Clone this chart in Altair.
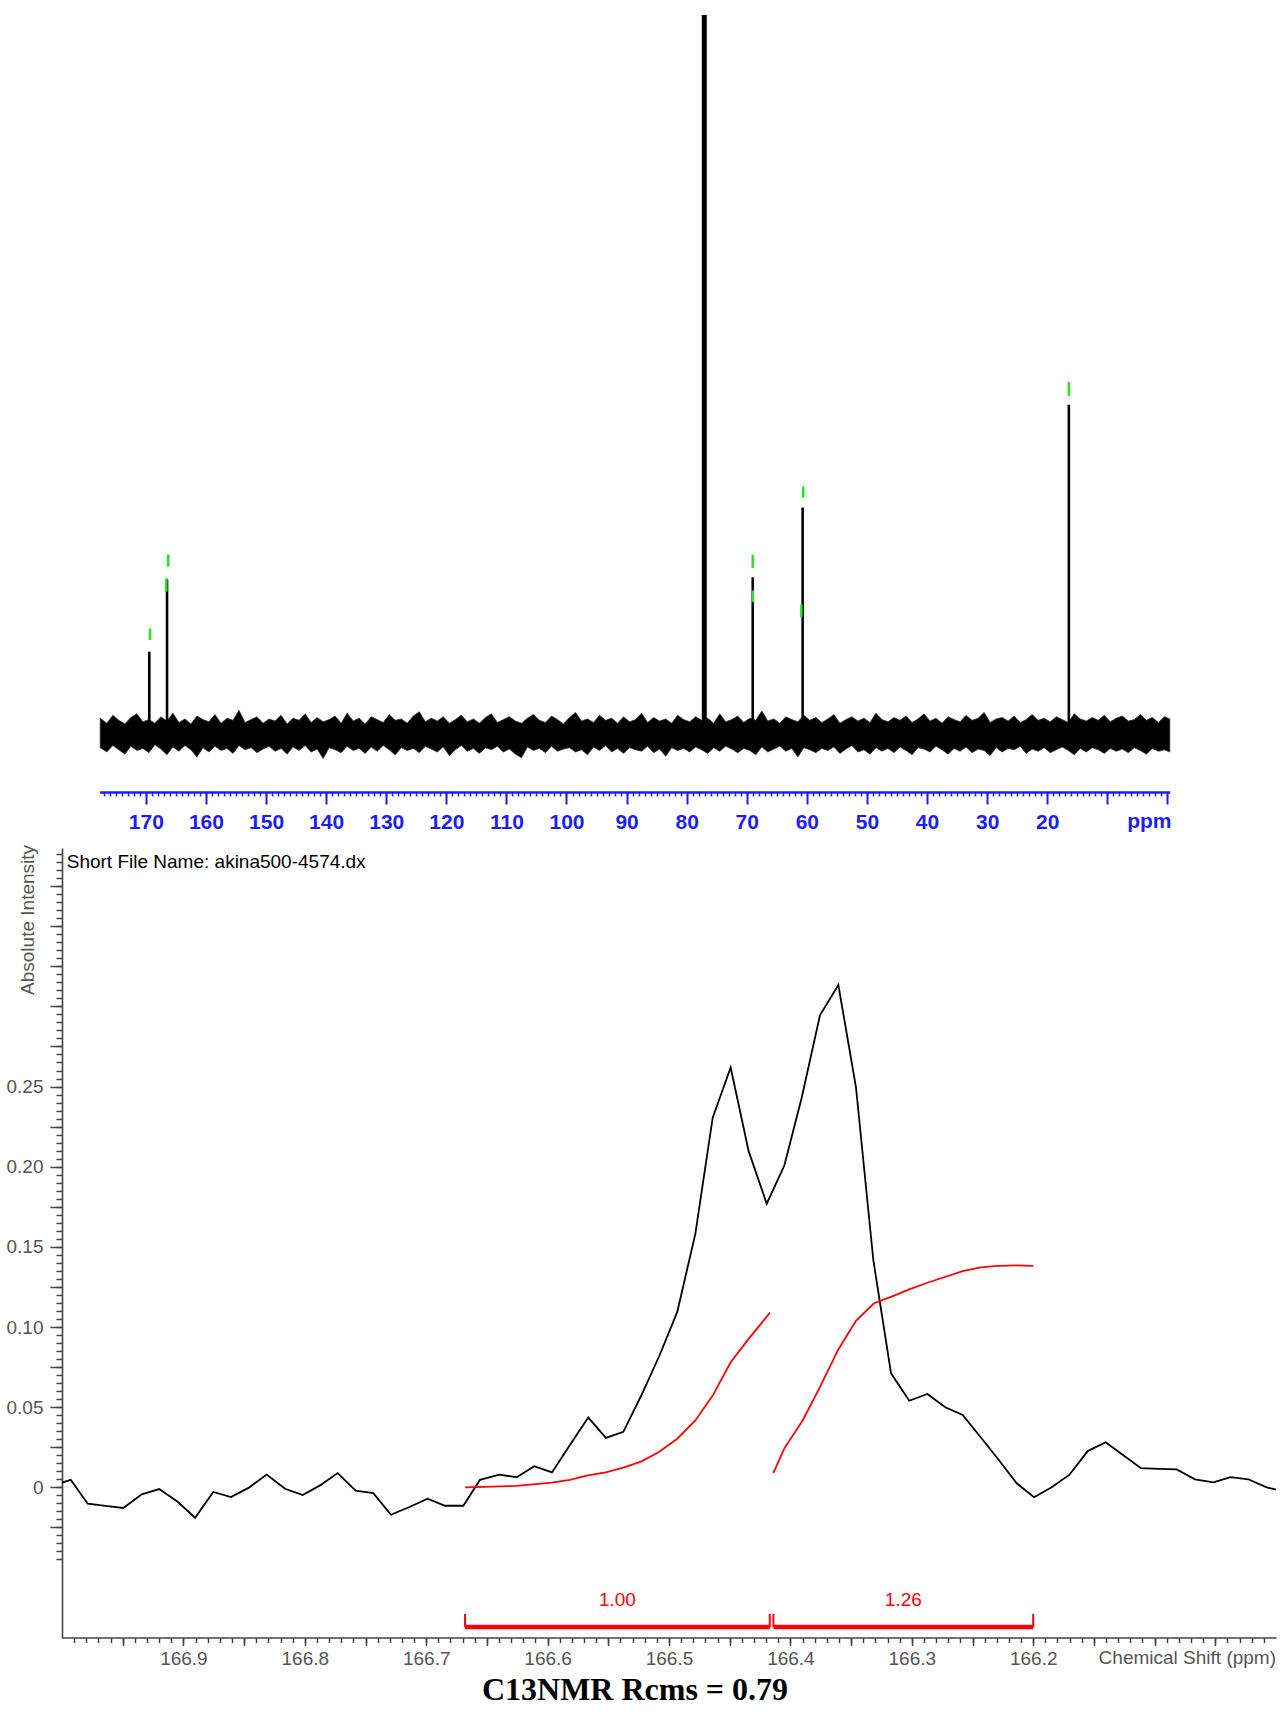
import altair as alt
import pandas as pd

W, H = 1280, 1716

# ---------------- overview 13C spectrum (top panel) ----------------
peak_ppm = [169.43, 166.48, 69.01, 60.70, 16.40]
peak_height = [11.45, 21.5, 21.8, 31.5, 45.8]
solvent_ppm = [77.07]
solvent_height = [100.0]

marker_ppm = [169.31, 166.27, 166.60, 69.01, 69.01, 60.60, 60.92, 16.40]
marker_low = [13.07, 23.27, 19.79, 23.09, 18.36, 32.90, 16.27, 47.00]
marker_high = [14.70, 24.99, 21.65, 24.94, 19.96, 34.40, 18.01, 48.99]

noise_ppm = [177.6, 176.5, 175.5, 174.5, 173.5, 172.5, 171.5, 170.5, 169.5, 168.5,
             167.5, 166.5, 165.5, 164.5, 163.5, 162.5, 161.5, 160.5, 159.5, 158.5,
             157.5, 156.5, 155.5, 154.5, 153.5, 152.5, 151.5, 150.5, 149.5, 148.5,
             147.5, 146.5, 145.5, 144.5, 143.5, 142.5, 141.5, 140.5, 139.5, 138.5,
             137.5, 136.5, 135.5, 134.5, 133.5, 132.5, 131.5, 130.5, 129.5, 128.5,
             127.5, 126.5, 125.5, 124.5, 123.5, 122.5, 121.5, 120.5, 119.5, 118.5,
             117.5, 116.5, 115.5, 114.5, 113.5, 112.5, 111.5, 110.5, 109.5, 108.5,
             107.5, 106.5, 105.5, 104.5, 103.5, 102.5, 101.5, 100.5, 99.5, 98.5,
             97.5, 96.5, 95.5, 94.5, 93.5, 92.5, 91.5, 90.5, 89.5, 88.5,
             87.5, 86.5, 85.5, 84.5, 83.5, 82.5, 81.5, 80.5, 79.5, 78.5,
             77.5, 76.5, 75.5, 74.5, 73.5, 72.5, 71.5, 70.5, 69.5, 68.5,
             67.5, 66.5, 65.5, 64.5, 63.5, 62.5, 61.5, 60.5, 59.5, 58.5,
             57.5, 56.5, 55.5, 54.5, 53.5, 52.5, 51.5, 50.5, 49.5, 48.5,
             47.5, 46.5, 45.5, 44.5, 43.5, 42.5, 41.5, 40.5, 39.5, 38.5,
             37.5, 36.5, 35.5, 34.5, 33.5, 32.5, 31.5, 30.5, 29.5, 28.5,
             27.5, 26.5, 25.5, 24.5, 23.5, 22.5, 21.5, 20.5, 19.5, 18.5,
             17.5, 16.5, 15.5, 14.5, 13.5, 12.5, 11.5, 10.5, 9.5, 8.5,
             7.5, 6.5, 5.5, 4.5, 3.5, 2.5, 1.5, 0.5, -0.4]
noise_upper = [2.2, 1.5, 2.6, 1.9, 1.4, 2.3, 2.8, 1.7, 2.0, 1.5,
               2.4, 1.8, 2.9, 1.6, 2.1, 1.4, 2.5, 2.0, 1.7, 2.7,
               1.5, 2.2, 1.9, 3.3, 1.6, 2.0, 2.4, 1.5, 2.1, 1.8,
               2.6, 1.4, 2.2, 1.9, 2.8, 1.6, 2.3, 1.7, 2.0, 2.5,
               1.5, 2.9, 1.8, 2.2, 1.4, 2.4, 2.0, 1.6, 2.7, 1.9,
               2.1, 1.5, 2.5, 3.1, 1.7, 2.2, 1.8, 2.4, 1.5, 2.0,
               2.6, 1.7, 2.1, 1.5, 2.3, 2.8, 1.6, 2.0, 2.4, 1.8,
               1.5, 2.2, 2.7, 1.9, 1.6, 2.5, 2.0, 1.4, 2.3, 3.0,
               1.8, 2.1, 1.6, 2.6, 1.9, 2.2, 1.5, 2.4, 1.7, 2.0,
               2.9, 1.6, 2.3, 1.8, 2.1, 1.5, 2.6, 2.0, 1.7, 2.4,
               1.9, 2.2, 1.5, 2.8, 1.7, 2.0, 2.5, 1.6, 2.2, 1.9,
               3.2, 1.8, 2.1, 1.5, 2.4, 2.0, 1.7, 2.6, 1.9, 2.3,
               1.6, 2.1, 2.7, 1.5, 2.0, 2.4, 1.8, 2.2, 1.6, 2.9,
               2.0, 1.7, 2.3, 1.9, 2.5, 1.6, 2.1, 2.8, 1.8, 2.2,
               1.5, 2.4, 2.0, 1.7, 2.6, 1.9, 2.2, 3.0, 1.6, 2.1,
               2.3, 1.8, 2.5, 1.6, 2.0, 2.7, 1.9, 2.2, 1.7, 2.4,
               2.0, 1.6, 2.8, 2.1, 1.8, 2.3, 1.9, 2.6, 1.7, 2.2,
               2.5, 1.8, 2.0, 2.7, 1.9, 2.3, 1.6, 2.4, 2.1]
noise_lower = [-1.9, -2.5, -1.6, -2.2, -2.8, -1.7, -2.3, -2.0, -2.6, -1.5,
               -2.1, -2.9, -1.8, -2.4, -1.6, -2.2, -3.2, -1.9, -2.5, -1.7,
               -2.3, -2.0, -2.7, -1.6, -2.2, -1.9, -2.6, -2.1, -1.7, -2.4,
               -2.0, -2.8, -1.8, -2.3, -1.6, -2.5, -2.1, -3.4, -1.9, -2.2,
               -2.6, -1.7, -2.3, -2.0, -2.7, -1.8, -2.4, -1.6, -2.2, -2.9,
               -1.9, -2.3, -2.0, -2.6, -1.7, -2.1, -2.5, -1.8, -3.0, -2.2,
               -1.6, -2.4, -2.0, -2.7, -1.9, -2.2, -1.7, -2.5, -2.1, -2.8,
               -3.3, -1.8, -2.3, -2.0, -2.6, -1.7, -2.4, -2.1, -1.9, -2.5,
               -2.2, -2.9, -1.8, -2.3, -1.6, -2.5, -2.0, -2.7, -1.9, -2.2,
               -2.4, -1.7, -2.6, -2.1, -3.1, -1.9, -2.3, -2.0, -2.5, -1.8,
               -2.2, -2.7, -1.9, -2.4, -1.7, -2.1, -2.6, -2.0, -2.3, -2.9,
               -1.8, -2.5, -2.1, -1.7, -2.4, -2.0, -3.2, -1.9, -2.2, -2.6,
               -2.0, -2.3, -1.8, -2.7, -2.1, -1.6, -2.5, -2.2, -2.8, -1.9,
               -2.4, -2.0, -2.6, -1.8, -2.3, -2.9, -1.9, -2.1, -2.5, -1.7,
               -2.2, -2.8, -2.0, -2.4, -1.8, -2.6, -2.1, -2.3, -3.0, -1.9,
               -2.5, -2.0, -2.2, -1.7, -2.7, -2.1, -2.4, -1.9, -2.6, -2.2,
               -1.8, -2.3, -2.9, -2.0, -2.5, -1.9, -2.2, -2.7, -2.0, -2.4,
               -2.1, -2.6, -1.9, -2.3, -2.8, -2.0, -2.4, -2.2, -2.5]

top_unit_label = ["ppm"]
top_unit_ppm = [3.0]
top_unit_level = [-12.2]

# ---------------- expanded region 166.0-167.0 ppm (bottom panel) ----------------
zoom_ppm = [167.0, 166.9928, 166.9788, 166.9642, 166.9495, 166.9343, 166.9199, 166.9047, 166.8904, 166.8754,
            166.8608, 166.8460, 166.8314, 166.8163, 166.8017, 166.7875, 166.7729, 166.7581, 166.7436, 166.7290,
            166.7133, 166.6988, 166.6845, 166.6694, 166.6557, 166.6398, 166.6255, 166.6110, 166.5964, 166.5816,
            166.5665, 166.5519, 166.5376, 166.5225, 166.5080, 166.4932, 166.4783, 166.4640, 166.4492, 166.4344,
            166.4195, 166.4050, 166.3907, 166.3756, 166.3605, 166.3460, 166.3317, 166.3171, 166.3021, 166.2872,
            166.2724, 166.2581, 166.2434, 166.2288, 166.2136, 166.1993, 166.1848, 166.1703, 166.1551, 166.1403,
            166.1258, 166.1112, 166.0964, 166.0818, 166.0667, 166.0516, 166.0373, 166.0228, 166.0077, 166.0]
zoom_int = [0.0029, 0.0047, -0.0102, -0.0116, -0.0129, -0.0044, -0.0011, -0.0090, -0.0190, -0.0029,
            -0.0061, -0.0002, 0.0079, -0.0009, -0.0048, 0.0012, 0.0089, -0.0021, -0.0036, -0.0171,
            -0.0121, -0.0071, -0.0115, -0.0115, 0.0047, 0.0079, 0.0063, 0.0132, 0.0093, 0.0264,
            0.0435, 0.0308, 0.0346, 0.0578, 0.0819, 0.1094, 0.1581, 0.2306, 0.2619, 0.2097,
            0.1769, 0.2007, 0.2430, 0.2946, 0.3133, 0.2497, 0.1418, 0.0711, 0.0540, 0.0582,
            0.0499, 0.0451, 0.0314, 0.0175, 0.0025, -0.0062, 0.0000, 0.0077, 0.0226, 0.0281,
            0.0200, 0.0119, 0.0115, 0.0112, 0.0050, 0.0031, 0.0064, 0.0050, 0.0000, -0.0015]

int1_ppm = [166.668, 166.6255, 166.5966, 166.5816, 166.5670, 166.5521, 166.5376, 166.5225,
            166.5080, 166.4932, 166.4783, 166.4640, 166.4492, 166.4344, 166.4168]
int1_val = [0.0, 0.0009, 0.0029, 0.0046, 0.0074, 0.0093, 0.0123, 0.0162,
            0.0222, 0.0303, 0.0417, 0.0572, 0.0780, 0.0926, 0.1090]
int2_ppm = [166.4141, 166.4050, 166.3899, 166.3756, 166.3605, 166.3460, 166.3311,
            166.3166, 166.3021, 166.2872, 166.2581, 166.2432, 166.2288, 166.2136, 166.1999]
int2_val = [0.0089, 0.0243, 0.0417, 0.0626, 0.0860, 0.1039, 0.1148,
            0.1189, 0.1235, 0.1276, 0.1349, 0.1372, 0.1381, 0.1385, 0.1381]

int_from = [166.668, 166.414]
int_to = [166.417, 166.200]
int_label = ["1.00", "1.26"]

file_label = "Short File Name: akina500-4574.dx"
y_title = "Absolute Intensity"
x_title = "Chemical Shift (ppm)"
bottom_title = "C13NMR Rcms = 0.79"

# ---------------- scales ----------------
xt_scale = alt.Scale(domain=[177.7, -0.4], range=[99.6, 1169.8], nice=False, zero=False)
yt_scale = alt.Scale(domain=[0, 100], range=[734, 15], nice=False, zero=False)
xb_scale = alt.Scale(domain=[167.0, 166.0], range=[62, 1276], nice=False, zero=False)
yb_scale = alt.Scale(domain=[-0.094, 0.3988], range=[1638, 848], nice=False, zero=False)

BLUE = "#1c1cff"
GREY = "#444444"
LABEL_GREY = "#555555"
RED = "#ff0000"
GREEN = "#22e622"
SANS = "Liberation Sans"

# ---------------- axes ----------------
ax_top_major = alt.Axis(orient="bottom", offset=792 - H, values=list(range(0, 171, 10)), format="d",
                        labelExpr="datum.value >= 20 ? datum.label : ''",
                        tickSize=12, tickWidth=2, tickColor=BLUE, domainColor=BLUE, domainWidth=2.5,
                        labelColor=BLUE, labelFont=SANS, labelFontWeight="bold", labelFontSize=21,
                        labelBaseline="middle", labelPadding=18, labelOverlap=False, labelFlush=False,
                        grid=False, title=None)
ax_top_minor = alt.Axis(orient="bottom", offset=792 - H, values=list(range(0, 178)),
                        tickSize=4, tickWidth=1.5, tickColor=BLUE, domain=False, labels=False,
                        grid=False, title=None)

ax_b_x_major = alt.Axis(orient="bottom", offset=1637.5 - H,
                        values=[round(166.05 + 0.05 * i, 2) for i in range(19)],
                        labelExpr="(abs(datum.value*10 - round(datum.value*10)) < 0.01 && datum.value > 166.15) ? format(datum.value, '.1f') : ''",
                        tickSize=8, tickWidth=1.5, tickColor=GREY, domainColor=GREY, domainWidth=1.6,
                        labelColor=LABEL_GREY, labelFont=SANS, labelFontSize=19, labelBaseline="middle",
                        labelPadding=13, labelOverlap=False, labelFlush=False, grid=False, title=None)
ax_b_x_minor = alt.Axis(orient="bottom", offset=1637.5 - H,
                        values=[round(166.01 + 0.01 * i, 2) for i in range(99)],
                        tickSize=5, tickWidth=1.5, tickColor=GREY, domain=False, labels=False,
                        grid=False, title=None)
ax_b_y_major = alt.Axis(orient="left", offset=-62,
                        values=[round(-0.025 + 0.025 * i, 3) for i in range(17)],
                        labelExpr="abs(datum.value) < 0.001 ? '0' : ((datum.value > 0 && datum.value < 0.26 && abs(datum.value*20 - round(datum.value*20)) < 0.01) ? format(datum.value, '.2f') : '')",
                        tickSize=12, tickWidth=1.5, tickColor=GREY, domainColor=GREY, domainWidth=1.6,
                        labelColor=LABEL_GREY, labelFont=SANS, labelFontSize=19, labelPadding=7,
                        labelOverlap=False, labelFlush=False, grid=False, title=None)
ax_b_y_minor = alt.Axis(orient="left", offset=-62,
                        values=[round(-0.045 + 0.005 * i, 3) for i in range(89)],
                        tickSize=6, tickWidth=1.5, tickColor=GREY, domain=False, labels=False,
                        grid=False, title=None)

# ---------------- tables ----------------
n_noise = min(len(noise_ppm), len(noise_upper), len(noise_lower))
noise_df = pd.DataFrame({"ppm": noise_ppm[:n_noise], "upper": noise_upper[:n_noise],
                         "lower": noise_lower[:n_noise]})
peak_df = pd.DataFrame({"ppm": peak_ppm, "height": peak_height})
peak_df["base"] = -1.5
solvent_df = pd.DataFrame({"ppm": solvent_ppm, "height": solvent_height})
solvent_df["base"] = -2.0
marker_df = pd.DataFrame({"ppm": marker_ppm, "low": marker_low, "high": marker_high})
unit_df = pd.DataFrame({"ppm": top_unit_ppm, "level": top_unit_level, "label": top_unit_label})

zoom_df = pd.DataFrame({"ppm": zoom_ppm, "val": zoom_int})
int1_df = pd.DataFrame({"ppm": int1_ppm, "val": int1_val})
int2_df = pd.DataFrame({"ppm": int2_ppm, "val": int2_val})
bracket_df = pd.DataFrame({"start": int_from, "end": int_to, "label": int_label})
bracket_df["mid"] = (bracket_df["start"] + bracket_df["end"]) / 2
bracket_df["level"] = -0.0872
bracket_df["label_level"] = -0.0706
ends_df = pd.DataFrame({"ppm": int_from + int_to})
ends_df["low"] = -0.0872
ends_df["high"] = -0.0789

file_df = pd.DataFrame({"ppm": [166.9961], "val": [0.3903], "label": [file_label]})
ytitle_df = pd.DataFrame({"ppm": [167.028], "val": [0.4007], "label": [y_title]})
xtitle_df = pd.DataFrame({"ppm": [166.0], "val": [-0.1065], "label": [x_title]})
btitle_df = pd.DataFrame({"ppm": [166.528], "val": [-0.1265], "label": [bottom_title]})

# ---------------- top panel ----------------
def tx(field, axis=ax_top_major):
    return alt.X(field, type="quantitative", scale=xt_scale, axis=axis)

def ty(field):
    return alt.Y(field, type="quantitative", scale=yt_scale, axis=None)

noise = alt.Chart(noise_df).mark_area(color="black", opacity=1, stroke="#333333", strokeWidth=0.8).encode(
    x=tx("ppm"), y=ty("upper"), y2="lower")
peaks = alt.Chart(peak_df).mark_rule(color="black", strokeWidth=2.6).encode(
    x=tx("ppm"), y=ty("height"), y2="base")
solvent = alt.Chart(solvent_df).mark_rule(color="black", strokeWidth=5).encode(
    x=tx("ppm"), y=ty("height"), y2="base")
markers = alt.Chart(marker_df).mark_rule(color=GREEN, strokeWidth=2.5).encode(
    x=tx("ppm"), y=ty("high"), y2="low")
unit_text = alt.Chart(unit_df).mark_text(color=BLUE, font=SANS, fontWeight="bold", fontSize=21,
                                         baseline="middle").encode(
    x=tx("ppm"), y=ty("level"), text="label")

top_group = alt.layer(noise, peaks, solvent, markers, unit_text)
top_minor = alt.Chart(noise_df).mark_area(opacity=0).encode(
    x=tx("ppm", ax_top_minor), y=ty("upper"), y2="lower")

# ---------------- bottom panel ----------------
def bx(field, axis=ax_b_x_major):
    return alt.X(field, type="quantitative", scale=xb_scale, axis=axis)

def by(field, axis=ax_b_y_major):
    return alt.Y(field, type="quantitative", scale=yb_scale, axis=axis)

spec_line = alt.Chart(zoom_df).mark_line(color="black", strokeWidth=1.8).encode(
    x=bx("ppm"), y=by("val"))
int1_line = alt.Chart(int1_df).mark_line(color=RED, strokeWidth=1.8).encode(
    x=bx("ppm"), y=by("val"))
int2_line = alt.Chart(int2_df).mark_line(color=RED, strokeWidth=1.8).encode(
    x=bx("ppm"), y=by("val"))
bracket = alt.Chart(bracket_df).mark_rule(color=RED, strokeWidth=4.5).encode(
    x=bx("start"), x2="end", y=by("level"))
bracket_ends = alt.Chart(ends_df).mark_rule(color=RED, strokeWidth=2).encode(
    x=bx("ppm"), y=by("high"), y2="low")
bracket_text = alt.Chart(bracket_df).mark_text(color=RED, font=SANS, fontSize=19, baseline="middle").encode(
    x=bx("mid"), y=by("label_level"), text="label")
file_text = alt.Chart(file_df).mark_text(color="black", font=SANS, fontSize=19, align="left",
                                         baseline="middle").encode(
    x=bx("ppm"), y=by("val"), text="label")
ytitle_text = alt.Chart(ytitle_df).mark_text(color=LABEL_GREY, font=SANS, fontSize=19, align="right",
                                             baseline="middle", angle=270).encode(
    x=bx("ppm"), y=by("val"), text="label")
xtitle_text = alt.Chart(xtitle_df).mark_text(color=LABEL_GREY, font=SANS, fontSize=19, align="right",
                                             baseline="middle").encode(
    x=bx("ppm"), y=by("val"), text="label")
btitle_text = alt.Chart(btitle_df).mark_text(color="black", font="Liberation Serif", fontSize=32,
                                             fontWeight="bold", baseline="middle").encode(
    x=bx("ppm"), y=by("val"), text="label")

bottom_group = alt.layer(spec_line, int1_line, int2_line, bracket, bracket_ends, bracket_text,
                         file_text, ytitle_text, xtitle_text, btitle_text)
bottom_minor = alt.Chart(zoom_df).mark_line(opacity=0).encode(
    x=bx("ppm", ax_b_x_minor), y=by("val", ax_b_y_minor))

chart = alt.layer(top_group, top_minor, bottom_group, bottom_minor).resolve_scale(
    x="independent", y="independent"
).properties(
    width=W, height=H, autosize=alt.AutoSizeParams(type="none"), padding=0, background="white"
).configure_view(stroke=None).configure_axis(grid=False)

chart.save("out.html", embed_options={"renderer": "svg", "actions": False})
